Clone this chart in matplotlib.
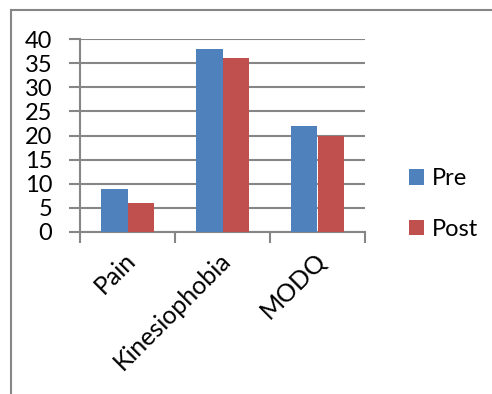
import matplotlib
matplotlib.use("Agg")
import matplotlib.pyplot as plt
import matplotlib.transforms as mtransforms
from matplotlib.lines import Line2D
import numpy as np

categories = ["Pain", "Kinesiophobia", "MODQ"]
pre = [9, 38, 22]
post = [6, 36, 20]
yticks = [0, 5, 10, 15, 20, 25, 30, 35, 40]

plt.rcParams["font.family"] = ["Lato", "DejaVu Sans"]

grey = "#868686"
fig = plt.figure(figsize=(4.92, 3.94), dpi=100)
ax = fig.add_axes([80 / 492, 1 - 232 / 394, 285 / 492, 193 / 394])

x = np.arange(len(categories))
w = 0.284
ax.bar(x - w / 2, pre, w, color="#4F81BD", label="Pre", zorder=3)
ax.bar(x + w / 2, post, w, color="#C0504D", label="Post", zorder=3)

ax.set_xlim(-0.5, 2.5)
ax.set_ylim(0, 40)
ax.set_yticks(yticks)
ax.yaxis.grid(True, color=grey, linewidth=1.5, zorder=0)
ax.tick_params(axis="y", length=8, width=1.5, color=grey, labelsize=17, pad=12)

# category labels at centres, tick marks on the boundaries
ax.set_xticks(x)
ax.set_xticklabels(categories, rotation=45, ha="right", va="top",
                   rotation_mode="anchor", fontsize=18)
ax.tick_params(axis="x", length=0, pad=4)
ax.set_xticks(np.arange(-0.5, 3.0, 1.0), minor=True)
ax.tick_params(axis="x", which="minor", length=8, width=1.5, color=grey)

# nudge rotated labels a little left and down
shift = mtransforms.ScaledTranslation(-4 / 100, -11 / 100, fig.dpi_scale_trans)
for lbl in ax.get_xticklabels():
    lbl.set_transform(lbl.get_transform() + shift)

for side in ["top", "right"]:
    ax.spines[side].set_visible(False)
for side in ["left", "bottom"]:
    ax.spines[side].set_color(grey)
    ax.spines[side].set_linewidth(1.5)

ax.legend(loc="center left", bbox_to_anchor=(1.08, 0.145), frameon=False,
          fontsize=17, handlelength=0.65, handleheight=0.65, handletextpad=0.3,
          labelspacing=1.25)

# outer chart frame (left and top edges)
fig.add_artist(Line2D([11 / 492, 11 / 492], [0, 1 - 10 / 394],
                      color=grey, linewidth=1.5, transform=fig.transFigure))
fig.add_artist(Line2D([11 / 492, 1], [1 - 10 / 394, 1 - 10 / 394],
                      color=grey, linewidth=1.5, transform=fig.transFigure))

fig.savefig("out.png", dpi=100)
